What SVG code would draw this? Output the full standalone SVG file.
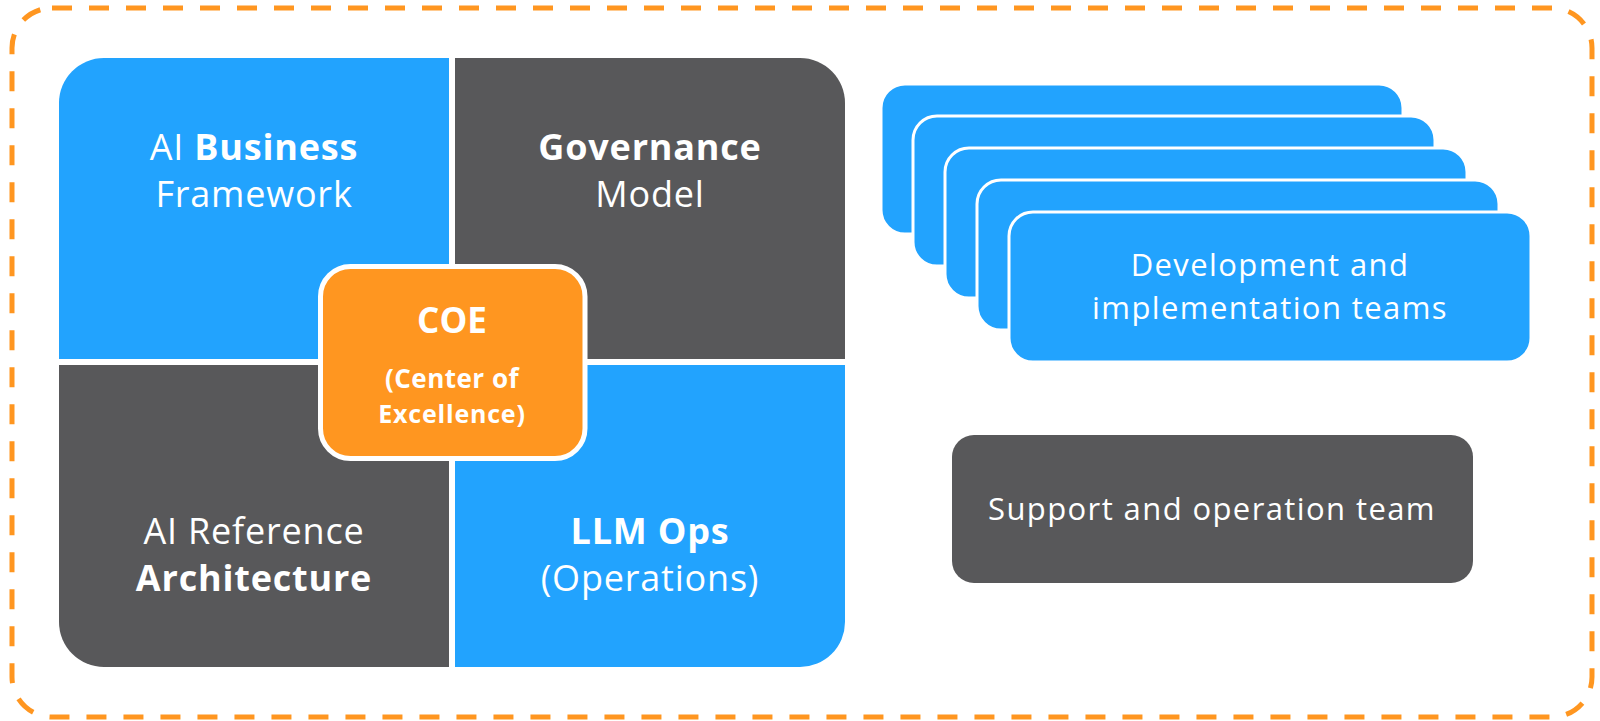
<svg xmlns="http://www.w3.org/2000/svg" width="1600" height="721" viewBox="0 0 1600 721">
<style>
.blue{fill:#22A3FE}
.gray{fill:#58585A}
.t{font-family:"Open Sans","Noto Sans","Liberation Sans",sans-serif;fill:#FFFFFF;text-anchor:middle}
.q{font-size:36px;letter-spacing:0.8px}
.c{font-size:31px;letter-spacing:1.4px}
.b{font-weight:bold}
.card{fill:#22A3FE;stroke:#FFFFFF;stroke-width:3}
</style>
<rect width="1600" height="721" fill="#FFFFFF"/>
<g id="frame">
<rect x="12" y="8" width="1580" height="709" rx="40" ry="40" fill="none" stroke="#FF9620" stroke-width="5" stroke-dasharray="20 17"/>
</g>
<g id="connectors"></g>
<g id="ai-business-framework">
<path class="blue" d="M59 103 A45 45 0 0 1 104 58 L449 58 L449 359 L59 359 Z"/>
<text class="t q" x="254" y="160">AI <tspan class="b">Business</tspan></text>
<text class="t q" x="254" y="207">Framework</text>
</g>
<g id="governance-model">
<path class="gray" d="M455 58 L800 58 A45 45 0 0 1 845 103 L845 359 L455 359 Z"/>
<text class="t q b" x="650" y="160">Governance</text>
<text class="t q" x="650" y="207">Model</text>
</g>
<g id="ai-reference-architecture">
<path class="gray" d="M59 365 L449 365 L449 667 L104 667 A45 45 0 0 1 59 622 Z"/>
<text class="t q" x="254" y="544">AI Reference</text>
<text class="t q b" x="254" y="591">Architecture</text>
</g>
<g id="llm-ops">
<path class="blue" d="M455 365 L845 365 L845 622 A45 45 0 0 1 800 667 L455 667 Z"/>
<text class="t q b" x="650" y="544">LLM Ops</text>
<text class="t q" x="650" y="591">(Operations)</text>
</g>
<g id="coe">
<rect x="320.5" y="266.5" width="264.5" height="192" rx="30" ry="30" fill="#FF9620" stroke="#FFFFFF" stroke-width="5"/>
<text class="t b" x="452" y="333" font-size="35">COE</text>
<text class="t b" x="452" y="388" font-size="26" letter-spacing="0.5">(Center of</text>
<text class="t b" x="452" y="423" font-size="25" letter-spacing="0.8">Excellence)</text>
</g>
<g id="development-teams">
<rect class="card" x="881" y="84" width="522" height="150" rx="24" ry="24"/>
<rect class="card" x="913" y="116" width="522" height="150" rx="24" ry="24"/>
<rect class="card" x="945" y="148" width="522" height="150" rx="24" ry="24"/>
<rect class="card" x="977" y="180" width="522" height="150" rx="24" ry="24"/>
<rect class="card" x="1009" y="212" width="522" height="150" rx="24" ry="24"/>
<text class="t c" x="1270" y="276">Development and</text>
<text class="t c" x="1270" y="319">implementation teams</text>
</g>
<g id="support-team">
<rect class="gray" x="952" y="435" width="521" height="148" rx="22" ry="22"/>
<text class="t c" x="1212" y="520">Support and operation team</text>
</g>
</svg>
